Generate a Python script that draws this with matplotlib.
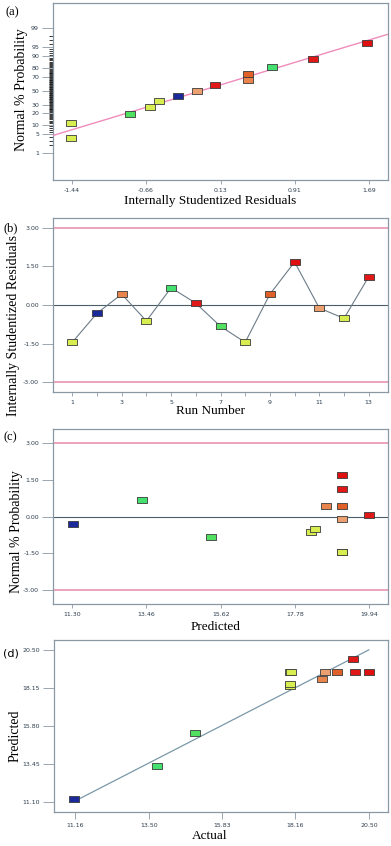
import numpy as np
import matplotlib
matplotlib.use("Agg")
import matplotlib.pyplot as plt
from statistics import NormalDist

# run data
runs = np.arange(1, 14)
residuals = np.array([-1.45, -0.32, 0.42, -0.62, 0.67, 0.07, -0.83, -1.45, 0.42, 1.67, -0.12, -0.52, 1.10])
actual = np.array([18.00, 11.12, 19.00, 17.98, 13.77, 20.00, 14.97, 18.02, 19.49, 20.49, 19.10, 17.98, 20.05])
predicted = np.array([19.14, 11.31, 18.70, 18.26, 13.34, 19.93, 15.35, 19.14, 19.14, 19.14, 19.14, 18.36, 19.14])
run_colors = ['#d8ee50', '#1a2a9a', '#e8844c', '#d8ee50', '#44e070', '#e01818', '#52e060',
              '#d8ee50', '#e06028', '#e01010', '#eca070', '#d8ee50', '#e01818']

prob_ticks = [1, 5, 10, 20, 30, 50, 70, 80, 90, 95, 99]
resid_xticks = [-1.44, -0.66, 0.13, 0.91, 1.69]
resid_yticks = [-3.0, -1.5, 0.0, 1.5, 3.0]
pred_ticks = [11.30, 13.46, 15.62, 17.78, 19.94]
act_xticks = [11.16, 13.50, 15.83, 18.16, 20.50]
act_yticks = [11.10, 13.45, 15.80, 18.15, 20.50]

nd = NormalDist()
RECT = [(-1, -0.58), (1, -0.58), (1, 0.58), (-1, 0.58), (-1, -0.58)]
SPINE = '#8a98a4'
TICKC = '#2e3e4e'
SERIF = 'Liberation Serif'


def marks(ax, x, y, colors):
    for xi, yi, c in zip(x, y, colors):
        ax.plot(xi, yi, marker=RECT, ms=6.5, mfc=c, mec='#3a3a3a', mew=0.6, ls='none', zorder=5)


def style(ax):
    for s in ax.spines.values():
        s.set_color(SPINE)
        s.set_linewidth(0.9)
    ax.tick_params(axis='both', direction='out', colors=SPINE, labelcolor=TICKC,
                   labelsize=4.5, width=0.6)
    ax.tick_params(axis='y', length=6, pad=2)
    ax.tick_params(axis='x', length=3, pad=3)


fig = plt.figure(figsize=(3.91, 8.46), dpi=100)
H = 846.0
W = 391.0


def add_axes(left, right, top, bottom):
    return fig.add_axes([left / W, 1 - bottom / H, (right - left) / W, (bottom - top) / H])


# (a) normal probability plot
ax = add_axes(53, 388, 3, 180)
order = np.argsort(residuals, kind='stable')
n = len(residuals)
z = np.array([nd.inv_cdf((i + 0.5) / n) for i in range(n)])
marks(ax, residuals[order], z, [run_colors[i] for i in order])
mu, sd = residuals.mean(), residuals.std(ddof=1)
xl = np.array([-1.64, 1.89])
ax.plot(xl, (xl - mu) / sd, color='#f08cbc', lw=1.0, zorder=3)
ax.set_xlim(-1.64, 1.89)
ax.set_ylim(-3.35, 3.28)
ax.set_xticks(resid_xticks)
ax.set_xticklabels(['%.2f' % v for v in resid_xticks])
ax.set_yticks([nd.inv_cdf(p / 100) for p in prob_ticks])
ax.set_yticklabels([str(p) for p in prob_ticks])
ax.set_yticks([nd.inv_cdf(p / 100) for p in range(1, 100) if p not in prob_ticks], minor=True)
style(ax)
ax.tick_params(axis='y', which='minor', length=3, width=0.6, colors='#1a1a1a')
ax.tick_params(axis='y', which='major', length=8)

# (b) residuals vs run
ax = add_axes(53, 388, 218, 392)
ax.plot(runs, residuals, color='#6c7c88', lw=0.8, zorder=3)
marks(ax, runs, residuals, run_colors)
ax.axhline(3.0, color='#e88aa8', lw=1.1)
ax.axhline(-3.0, color='#e88aa8', lw=1.1)
ax.axhline(0.0, color='#4c5c68', lw=0.8)
ax.set_xlim(0.22, 13.78)
ax.set_ylim(-3.38, 3.38)
ax.set_xticks(runs)
ax.set_xticklabels([str(r) if r % 2 else '' for r in runs])
ax.set_yticks(resid_yticks)
ax.set_yticklabels(['%.2f' % v for v in resid_yticks])
style(ax)
ax.tick_params(axis='y', length=8)

# (c) residuals vs predicted
ax = add_axes(53, 388, 429, 604)
marks(ax, predicted, residuals, run_colors)
ax.axhline(3.0, color='#e88aa8', lw=1.1)
ax.axhline(-3.0, color='#e88aa8', lw=1.1)
ax.axhline(0.0, color='#4c5c68', lw=0.8)
ax.set_xlim(10.74, 20.49)
ax.set_ylim(-3.56, 3.56)
ax.set_xticks(pred_ticks)
ax.set_xticklabels(['%.2f' % v for v in pred_ticks])
ax.set_yticks(resid_yticks)
ax.set_yticklabels(['%.2f' % v for v in resid_yticks])
style(ax)
ax.tick_params(axis='y', length=8)

# (d) predicted vs actual
ax = add_axes(54, 388, 640, 812)
lo, hi = actual.min(), actual.max()
ax.plot([lo, hi], [lo, hi], color='#7a98a8', lw=0.9, zorder=3)
marks(ax, actual, predicted, run_colors)
ax.set_xlim(10.49, 21.10)
ax.set_ylim(10.48, 21.10)
ax.set_xticks(act_xticks)
ax.set_xticklabels(['%.2f' % v for v in act_xticks])
ax.set_yticks(act_yticks)
ax.set_yticklabels(['%.2f' % v for v in act_yticks])
style(ax)
ax.tick_params(axis='y', length=8)
ax.tick_params(axis='x', length=5)

# panel letters and axis titles
for lab, x, y, fam in [('(a)', 5, 12, SERIF), ('(b)', 3, 228, SERIF),
                       ('(c)', 3, 437, SERIF), ('(d)', 3, 653, 'DejaVu Sans')]:
    fig.text(x / W, 1 - y / H, lab, family=fam, fontsize=9 if fam == SERIF else 8,
             ha='left', va='center')

ylabels = [('Normal % Probability', 22, 90), ('Internally Studentized Residuals', 14, 325),
           ('Normal % Probability', 17, 532), ('Predicted', 15, 736)]
for txt, x, y in ylabels:
    fig.text(x / W, 1 - y / H, txt, family=SERIF, fontsize=10, rotation=90, ha='center', va='center')

xlabels = [('Internally Studentized Residuals', 210, 201), ('Run Number', 210, 411),
           ('Predicted', 216, 627), ('Actual', 210, 836)]
for txt, x, y in xlabels:
    fig.text(x / W, 1 - y / H, txt, family=SERIF, fontsize=9.5, ha='center', va='center')

fig.savefig('out.png', dpi=100)
